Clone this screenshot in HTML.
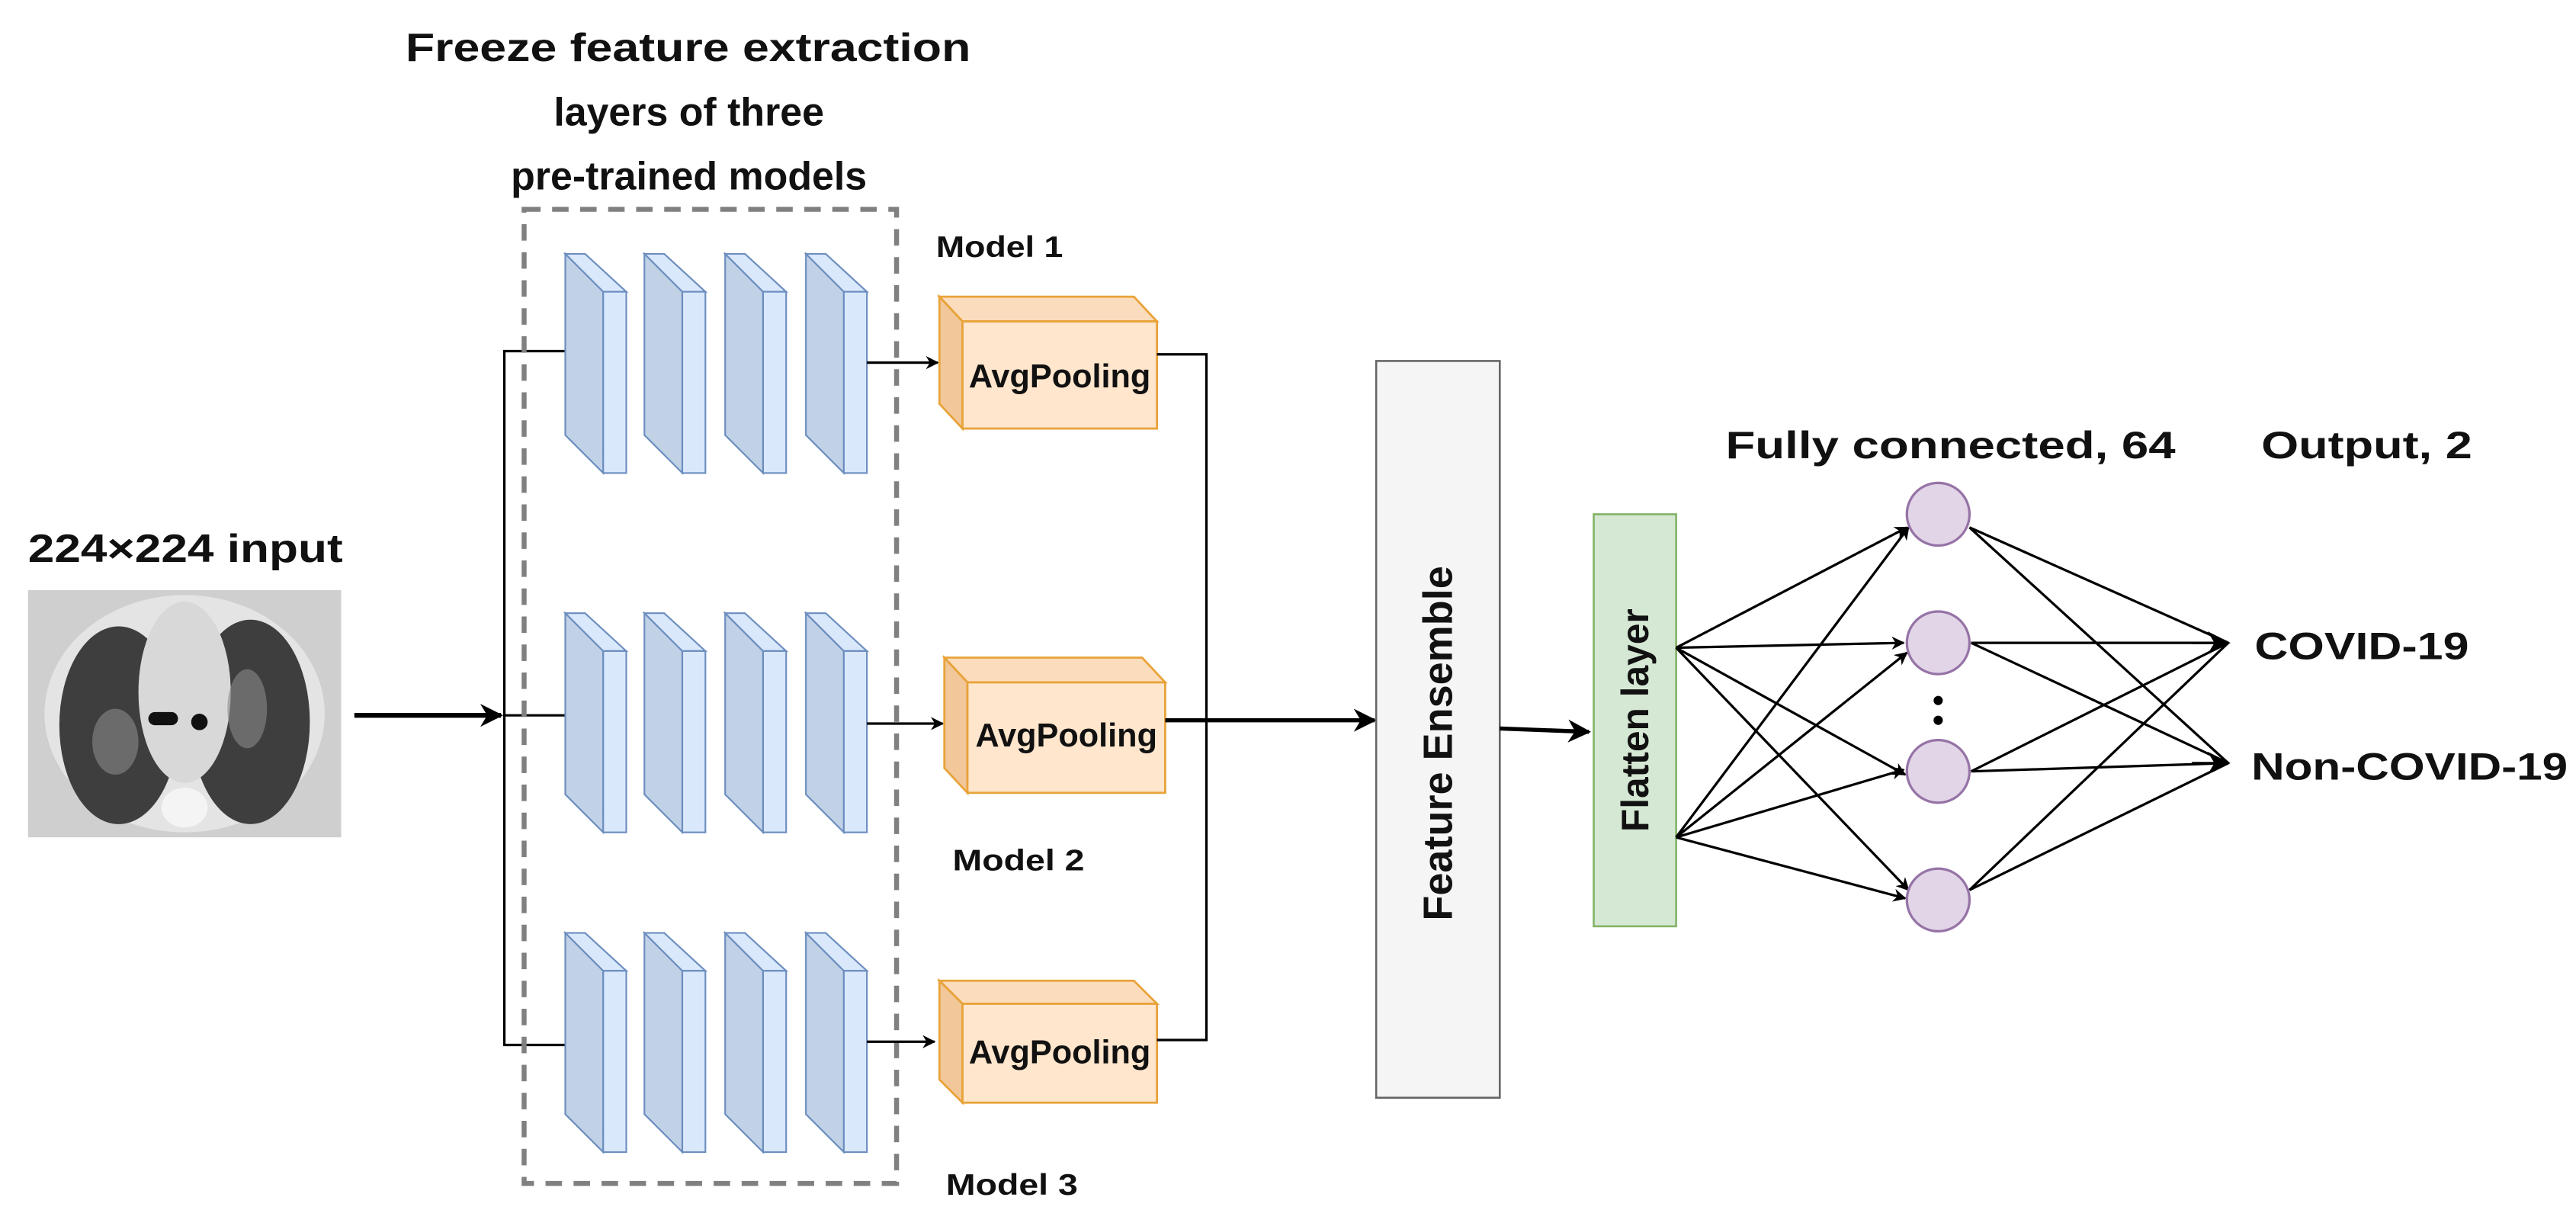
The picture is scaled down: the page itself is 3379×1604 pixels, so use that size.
<!DOCTYPE html>
<html><head><meta charset="utf-8"><style>
html,body{margin:0;padding:0;background:#fff}
svg{display:block}
text{font-family:"Liberation Sans",Arial,sans-serif;font-weight:bold;fill:#111}
</style></head><body>
<svg width="3379" height="1604" viewBox="0 0 1563 742" preserveAspectRatio="none" xmlns="http://www.w3.org/2000/svg">
<defs>
<marker id="ah2" viewBox="0 0 10 10" refX="9" refY="5" markerWidth="8" markerHeight="8" markerUnits="userSpaceOnUse" orient="auto">
<path d="M0,0 L10,5 L0,10 L3,5 z" fill="#000"/></marker>
<marker id="ah3" viewBox="0 0 10 10" refX="9" refY="5" markerWidth="14" markerHeight="14" markerUnits="userSpaceOnUse" orient="auto">
<path d="M0,0 L10,5 L0,10 L3,5 z" fill="#000"/></marker>
<g id="blk">
<polygon points="0,0 23,23 23,133 0,110" fill="#c2d2e6" stroke="#6c8ebf" stroke-width="1"/>
<polygon points="0,0 12,0 37,23 23,23" fill="#dae8fc" stroke="#6c8ebf" stroke-width="1"/>
<rect x="23" y="23" width="14" height="110" fill="#dae8fc" stroke="#6c8ebf" stroke-width="1"/>
</g>
</defs>

<!-- title -->
<text x="246" y="37" font-size="24" textLength="343" lengthAdjust="spacingAndGlyphs">Freeze feature extraction</text>
<text x="418" y="76" font-size="24" text-anchor="middle">layers of three</text>
<text x="418" y="115" font-size="24" text-anchor="middle">pre-trained models</text>

<!-- input -->
<text x="17" y="341" font-size="24" textLength="191" lengthAdjust="spacingAndGlyphs">224×224 input</text>
<rect x="17" y="358" width="190" height="150" fill="#cfcfcf"/>
<ellipse cx="112" cy="433" rx="85" ry="72" fill="#e4e4e4"/>
<ellipse cx="72" cy="440" rx="36" ry="60" fill="#3e3e3e"/>
<ellipse cx="152" cy="438" rx="36" ry="62" fill="#3e3e3e"/>
<ellipse cx="112" cy="420" rx="28" ry="55" fill="#d8d8d8"/>
<ellipse cx="70" cy="450" rx="14" ry="20" fill="#8a8a8a" opacity=".6"/>
<ellipse cx="150" cy="430" rx="12" ry="24" fill="#8a8a8a" opacity=".6"/>
<circle cx="121" cy="438" r="5" fill="#111"/>
<rect x="90" y="432" width="18" height="8" rx="4" fill="#111"/>
<ellipse cx="112" cy="490" rx="14" ry="12" fill="#f4f4f4"/>

<line x1="215" y1="434" x2="304" y2="434" stroke="#000" stroke-width="3" marker-end="url(#ah3)"/>

<polyline points="343,213 306,213 306,634 343,634" fill="none" stroke="#000" stroke-width="1.5"/>
<line x1="306" y1="434" x2="343" y2="434" stroke="#000" stroke-width="1.5"/>

<rect x="318" y="127" width="226" height="591" fill="none" stroke="#808080" stroke-width="3" stroke-dasharray="10,7"/>

<use href="#blk" x="343" y="154"/><use href="#blk" x="391" y="154"/><use href="#blk" x="440" y="154"/><use href="#blk" x="489" y="154"/>
<use href="#blk" x="343" y="372"/><use href="#blk" x="391" y="372"/><use href="#blk" x="440" y="372"/><use href="#blk" x="489" y="372"/>
<use href="#blk" x="343" y="566"/><use href="#blk" x="391" y="566"/><use href="#blk" x="440" y="566"/><use href="#blk" x="489" y="566"/>

<text x="568" y="156" font-size="18" textLength="77" lengthAdjust="spacingAndGlyphs">Model 1</text>
<text x="578" y="528" font-size="18" textLength="80" lengthAdjust="spacingAndGlyphs">Model 2</text>
<text x="574" y="725" font-size="18" textLength="80" lengthAdjust="spacingAndGlyphs">Model 3</text>

<line x1="526" y1="220" x2="569" y2="220" stroke="#000" stroke-width="1.5" marker-end="url(#ah2)"/>
<line x1="526" y1="439" x2="572" y2="439" stroke="#000" stroke-width="1.5" marker-end="url(#ah2)"/>
<line x1="526" y1="632" x2="567" y2="632" stroke="#000" stroke-width="1.5" marker-end="url(#ah2)"/>

<g stroke="#e8a33a" stroke-width="1.3">
<polygon points="570,180 688,180 702,195 584,195" fill="#fbdcbc"/>
<polygon points="570,180 584,195 584,260 570,245" fill="#f2c79a"/>
<rect x="584" y="195" width="118" height="65" fill="#ffe6cc"/>
<polygon points="573,399 693,399 707,414 587,414" fill="#fbdcbc"/>
<polygon points="573,399 587,414 587,481 573,466" fill="#f2c79a"/>
<rect x="587" y="414" width="120" height="67" fill="#ffe6cc"/>
<polygon points="570,595 688,595 702,609 584,609" fill="#fbdcbc"/>
<polygon points="570,595 584,609 584,669 570,655" fill="#f2c79a"/>
<rect x="584" y="609" width="118" height="60" fill="#ffe6cc"/>
</g>
<text x="643" y="235" font-size="20" text-anchor="middle">AvgPooling</text>
<text x="647" y="453" font-size="20" text-anchor="middle">AvgPooling</text>
<text x="643" y="645" font-size="20" text-anchor="middle">AvgPooling</text>

<polyline points="702,215 732,215 732,631 702,631" fill="none" stroke="#000" stroke-width="1.5"/>
<line x1="707" y1="437" x2="834" y2="437" stroke="#000" stroke-width="2.5" marker-end="url(#ah3)"/>

<rect x="835" y="219" width="75" height="447" fill="#f5f5f5" stroke="#666" stroke-width="1.2"/>
<text transform="translate(881,451) rotate(-90)" font-size="25" text-anchor="middle">Feature Ensemble</text>
<line x1="910" y1="442" x2="964" y2="444" stroke="#000" stroke-width="2.5" marker-end="url(#ah3)"/>

<rect x="967" y="312" width="50" height="250" fill="#d5e8d4" stroke="#82b366" stroke-width="1.2"/>
<text transform="translate(1000,437) rotate(-90)" font-size="23" text-anchor="middle">Flatten layer</text>

<text x="1047" y="278" font-size="23" textLength="273" lengthAdjust="spacingAndGlyphs">Fully connected, 64</text>
<text x="1372" y="278" font-size="23" textLength="128" lengthAdjust="spacingAndGlyphs">Output, 2</text>

<g stroke="#000" stroke-width="1.5" marker-end="url(#ah2)">
<line x1="1017" y1="393" x2="1157" y2="320"/>
<line x1="1017" y1="393" x2="1155" y2="390"/>
<line x1="1017" y1="393" x2="1156" y2="470"/>
<line x1="1017" y1="393" x2="1158" y2="540"/>
<line x1="1017" y1="508" x2="1158" y2="320"/>
<line x1="1017" y1="508" x2="1157" y2="396"/>
<line x1="1017" y1="508" x2="1155" y2="467"/>
<line x1="1017" y1="508" x2="1156" y2="545"/>
</g>
<g stroke="#000" stroke-width="1.5">
<line x1="1195" y1="320" x2="1352" y2="390"/>
<line x1="1195" y1="320" x2="1352" y2="463"/>
<line x1="1196" y1="390" x2="1352" y2="390"/>
<line x1="1196" y1="390" x2="1352" y2="463"/>
<line x1="1196" y1="468" x2="1352" y2="390"/>
<line x1="1196" y1="468" x2="1352" y2="463"/>
<line x1="1195" y1="540" x2="1352" y2="390"/>
<line x1="1195" y1="540" x2="1352" y2="463"/>
</g>
<line x1="1330" y1="390" x2="1352" y2="390" stroke="#000" stroke-width="1.5" marker-end="url(#ah3)"/>
<line x1="1330" y1="463" x2="1352" y2="463" stroke="#000" stroke-width="1.5" marker-end="url(#ah3)"/>

<g fill="#e1d5e7" stroke="#9673a6" stroke-width="1.5">
<circle cx="1176" cy="312" r="19"/>
<circle cx="1176" cy="390" r="19"/>
<circle cx="1176" cy="468" r="19"/>
<circle cx="1176" cy="546" r="19"/>
</g>
<circle cx="1176" cy="425" r="2.8" fill="#000"/>
<circle cx="1176" cy="437" r="2.8" fill="#000"/>

<text x="1368" y="400" font-size="23" textLength="130" lengthAdjust="spacingAndGlyphs">COVID-19</text>
<text x="1366" y="473" font-size="23" textLength="192" lengthAdjust="spacingAndGlyphs">Non-COVID-19</text>
</svg>
</body></html>
